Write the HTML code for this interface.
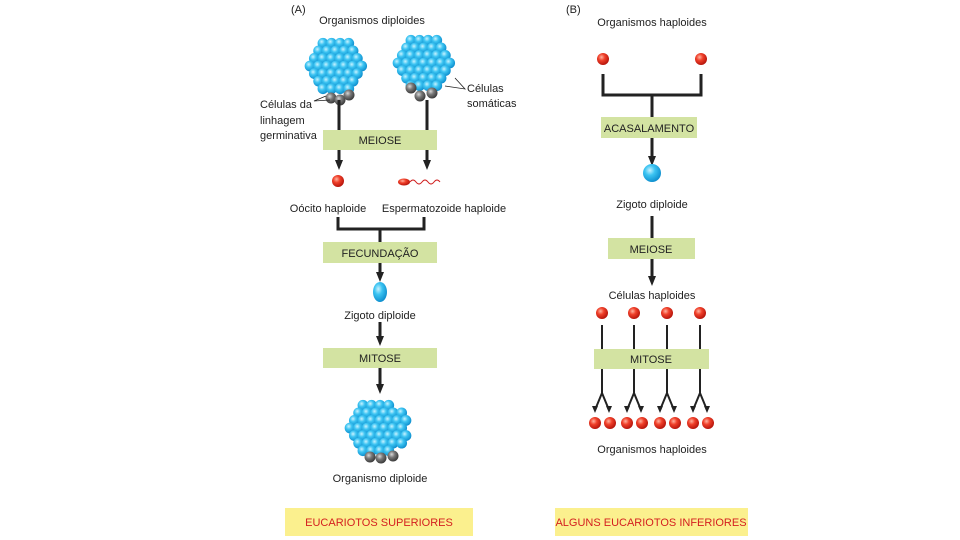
<!DOCTYPE html>
<html><head><meta charset="utf-8"><style>
html,body{margin:0;padding:0;background:#fff;}
svg{display:block;font-family:"Liberation Sans",sans-serif;}
</style></head><body>
<svg id="s" width="960" height="540" viewBox="0 0 960 540" xmlns="http://www.w3.org/2000/svg">
<defs>
<radialGradient id="gb" cx="0.38" cy="0.35" r="0.7"><stop offset="0" stop-color="#c8f2ff"/><stop offset="0.4" stop-color="#3cc4f2"/><stop offset="1" stop-color="#0a8acb"/></radialGradient>
<radialGradient id="gr" cx="0.38" cy="0.35" r="0.7"><stop offset="0" stop-color="#ffb3a0"/><stop offset="0.4" stop-color="#f0402a"/><stop offset="1" stop-color="#b01008"/></radialGradient>
<radialGradient id="gg" cx="0.38" cy="0.35" r="0.7"><stop offset="0" stop-color="#d8d8d8"/><stop offset="0.4" stop-color="#7a7a7a"/><stop offset="1" stop-color="#333"/></radialGradient>
</defs>
<g id="clusters"></g>
<g stroke="#222" stroke-width="3" fill="none">
<line x1="339" y1="100" x2="339" y2="162"/>
<line x1="427" y1="100" x2="427" y2="162"/>
<path d="M338 217 V229 H424 V217"/>
<line x1="380" y1="229" x2="380" y2="275"/>
<line x1="380" y1="322" x2="380" y2="340"/>
<line x1="380" y1="368" x2="380" y2="386"/>
<path d="M603 74 V95 H701 V74"/>
<line x1="652" y1="95" x2="652" y2="160"/>
<line x1="652" y1="216" x2="652" y2="280"/>
</g>
<g stroke="#222" stroke-width="2" fill="none">
<line x1="602" y1="325" x2="602" y2="393"/><line x1="634" y1="325" x2="634" y2="393"/>
<line x1="667" y1="325" x2="667" y2="393"/><line x1="700" y1="325" x2="700" y2="393"/>
<path d="M602 393 L595 410 M602 393 L609 410 M634 393 L627 410 M634 393 L641 410 M667 393 L660 410 M667 393 L674 410 M700 393 L693 410 M700 393 L707 410"/>
</g>
<g fill="#222">
<path d="M335 160 L339 170 L343 160 Z"/><path d="M423 160 L427 170 L431 160 Z"/>
<path d="M376 272 L380 282 L384 272 Z"/><path d="M376 336 L380 346 L384 336 Z"/>
<path d="M376 384 L380 394 L384 384 Z"/><path d="M648 156 L652 166 L656 156 Z"/>
<path d="M648 276 L652 286 L656 276 Z"/>
<path d="M592 406 L595 413 L598 406 Z M606 406 L609 413 L612 406 Z M624 406 L627 413 L630 406 Z M638 406 L641 413 L644 406 Z M657 406 L660 413 L663 406 Z M671 406 L674 413 L677 406 Z M690 406 L693 413 L696 406 Z M704 406 L707 413 L710 406 Z"/>
</g>
<g fill="#d3e3a2">
<rect x="323" y="130" width="114" height="20"/>
<rect x="323" y="242" width="114" height="21"/>
<rect x="323" y="348" width="114" height="20"/>
<rect x="601" y="117" width="96" height="21"/>
<rect x="608" y="238" width="87" height="21"/>
<rect x="594" y="349" width="115" height="20"/>
</g>
<g fill="#fbf08e"><rect x="285" y="508" width="188" height="28"/><rect x="555" y="508" width="193" height="28"/></g>
<g font-size="11" fill="#222" text-anchor="middle">
<text x="380" y="144">MEIOSE</text><text x="380" y="257">FECUNDAÇÃO</text><text x="380" y="362">MITOSE</text>
<text x="649" y="132">ACASALAMENTO</text><text x="651" y="253">MEIOSE</text><text x="651" y="363">MITOSE</text>
<text x="372" y="24">Organismos diploides</text>
<text x="328" y="212">Oócito haploide</text><text x="444" y="212">Espermatozoide haploide</text>
<text x="380" y="319">Zigoto diploide</text><text x="380" y="482">Organismo diploide</text>
<text x="652" y="26">Organismos haploides</text><text x="652" y="208">Zigoto diploide</text>
<text x="652" y="299">Células haploides</text><text x="652" y="453">Organismos haploides</text>
</g>
<g font-size="11" fill="#222">
<text x="291" y="13">(A)</text><text x="566" y="13">(B)</text>
<text x="260" y="108">Células da</text><text x="260" y="124">linhagem</text><text x="260" y="139">germinativa</text>
<text x="467" y="92">Células</text><text x="467" y="107">somáticas</text>
</g>
<g stroke="#222" stroke-width="0.8" fill="none"><path d="M326 96 L314 101 L330 100"/><path d="M455 78 L465 89 L445 86"/></g>
<g font-size="11" fill="#d42020" text-anchor="middle"><text x="379" y="526">EUCARIOTOS SUPERIORES</text><text x="651" y="526">ALGUNS EUCARIOTOS INFERIORES</text></g>
<circle cx="338" cy="181" r="6" fill="url(#gr)"/>
<ellipse cx="404" cy="182" rx="6" ry="3.5" fill="url(#gr)"/>
<path d="M410 182 q3 -4 6 0 t6 0 t6 0 t6 0 t6 0" stroke="#d02020" stroke-width="1" fill="none"/>
<ellipse cx="380" cy="292" rx="7" ry="10" fill="url(#gb)"/>
<circle cx="603" cy="59" r="6" fill="url(#gr)"/><circle cx="701" cy="59" r="6" fill="url(#gr)"/>
<circle cx="652" cy="173" r="9" fill="url(#gb)"/>
<circle cx="602" cy="313" r="6" fill="url(#gr)"/><circle cx="634" cy="313" r="6" fill="url(#gr)"/>
<circle cx="667" cy="313" r="6" fill="url(#gr)"/><circle cx="700" cy="313" r="6" fill="url(#gr)"/>
<g fill="url(#gr)"><circle cx="595" cy="423" r="6"/><circle cx="610" cy="423" r="6"/><circle cx="627" cy="423" r="6"/><circle cx="642" cy="423" r="6"/><circle cx="660" cy="423" r="6"/><circle cx="675" cy="423" r="6"/><circle cx="693" cy="423" r="6"/><circle cx="708" cy="423" r="6"/></g>
</svg>
<script>
var g=document.getElementById('clusters'),NS='http://www.w3.org/2000/svg';
function c(x,y,r,f){var e=document.createElementNS(NS,'circle');e.setAttribute('cx',x);e.setAttribute('cy',y);e.setAttribute('r',r);e.setAttribute('fill',f);g.appendChild(e);}
function cluster(cx,cy,R,gray){var s=8.6;for(var j=-5;j<=5;j++){for(var i=-5;i<=5;i++){var x=cx+i*s+(Math.abs(j)%2?s/2:0)-s/4,y=cy+j*s*0.88;var dx=x-cx,dy=(y-cy);if(dx*dx+dy*dy<(R-5)*(R-5))c(x,y,5.4,'url(#gb)');}}gray.forEach(function(p){c(p[0],p[1],5.5,'url(#gg)');});}
cluster(338,66,33,[[331,98],[340,100],[349,95]]);
cluster(426,63,33,[[411,88],[420,96],[432,93]]);
cluster(378,428,34,[[370,457],[381,458],[393,456]]);
</script>
</body></html>
